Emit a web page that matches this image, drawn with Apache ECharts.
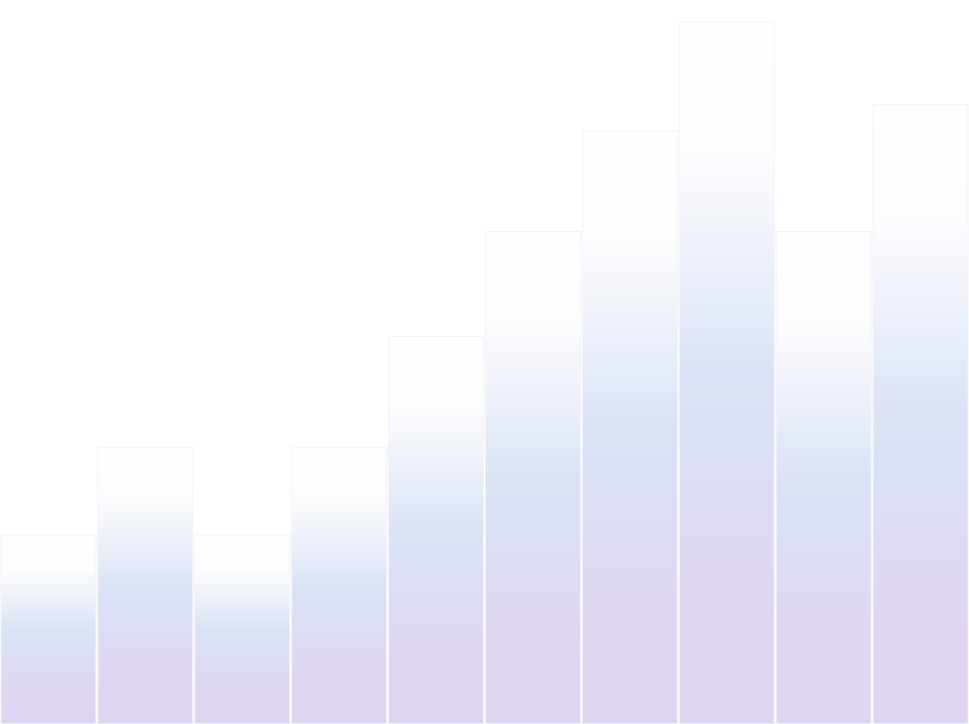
<!DOCTYPE html>
<html>
<head>
<meta charset="utf-8">
<script src="https://cdn.jsdelivr.net/npm/echarts@6/dist/echarts.min.js"></script>
<style>
  html, body { margin: 0; padding: 0; background: #fff; }
  #chart { width: 969px; height: 724px; }
</style>
</head>
<body>
<div id="chart"></div>
<script>
// data
const categories = ['1', '2', '3', '4', '5', '6', '7', '8', '9', '10'];
const values = [26.2, 38.3, 26.2, 38.3, 53.6, 68.1, 82.0, 97.0, 68.1, 85.6];

const myChart = echarts.init(document.getElementById('chart'));
const option = {
  animation: false,
  grid: { left: 0, right: 0, top: 0, bottom: 0 },
  xAxis: {
    type: 'category',
    data: categories,
    show: false
  },
  yAxis: {
    type: 'value',
    min: 0,
    max: 100,
    show: false
  },
  series: [
    {
      type: 'bar',
      data: values,
      barCategoryGap: '1%',
      itemStyle: {
        borderColor: '#f3f2fb',
        borderWidth: 1,
        color: new echarts.graphic.LinearGradient(0, 0, 0, 1, [
          { offset: 0, color: '#fefefe' },
          { offset: 0.18, color: '#fdfdfe' },
          { offset: 0.3, color: '#f1f4fb' },
          { offset: 0.5, color: '#dae3f5' },
          { offset: 0.6, color: '#dbe0f4' },
          { offset: 0.8, color: '#dfd6f0' },
          { offset: 1, color: '#dfd5f0' }
        ])
      }
    }
  ]
};
myChart.setOption(option);
window.onresize = function() {
  myChart.resize();
};
</script>
</body>
</html>
